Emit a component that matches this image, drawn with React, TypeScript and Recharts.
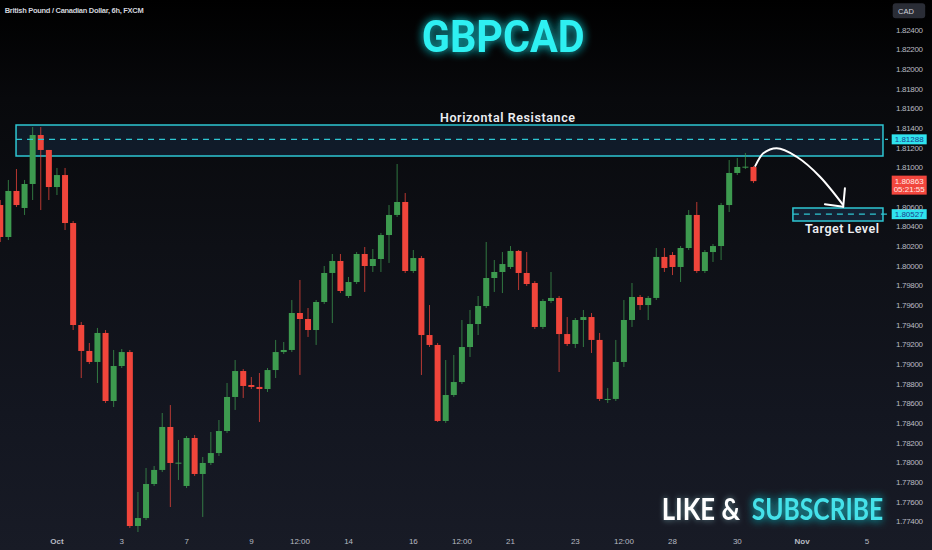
import React from 'react';
import { ComposedChart, Bar, Line, XAxis, YAxis, ReferenceArea, ReferenceLine } from 'recharts';

// 6h candles, GBPCAD, Sep 27 06:00 .. Oct 30 12:00
const opens = [
  1.8062, 1.80295, 1.80763, 1.8059, 1.80834, 1.81332, 1.8118, 1.80803, 1.80925, 1.80437,
  1.794, 1.79136, 1.79024, 1.79319, 1.78627, 1.78983, 1.79125, 1.77356, 1.77437, 1.77783,
  1.77926, 1.78363, 1.77994, 1.77763, 1.78251, 1.77885, 1.77997, 1.78098, 1.78322, 1.78668,
  1.78932, 1.7879, 1.7877, 1.78749, 1.78942, 1.79125, 1.79146, 1.79522, 1.79461, 1.79349,
  1.79634, 1.79929, 1.80051, 1.79695, 1.79837, 1.80122, 1.8, 1.80071, 1.80315, 1.80519,
  1.80651, 1.79949, 1.80081, 1.79298, 1.79197, 1.78424, 1.78688, 1.7882, 1.79176, 1.7941,
  1.79593, 1.79878, 1.79939, 1.7999, 1.80153, 1.79929, 1.79827, 1.7938, 1.79644, 1.79675,
  1.79308, 1.79207, 1.79451, 1.79481, 1.79248, 1.78637, 1.78648, 1.79024, 1.79451, 1.79685,
  1.79603, 1.79675, 1.80092, 1.80112, 1.7999, 1.80183, 1.80519, 1.79949, 1.80142, 1.80203,
  1.8062, 1.80946, 1.81004, 1.81007,
];
const highs = [
  1.80671, 1.80875, 1.80986, 1.80875, 1.81413, 1.81413, 1.8118, 1.80997, 1.80997, 1.80458,
  1.79431, 1.79217, 1.7937, 1.79349, 1.79146, 1.79156, 1.79146, 1.77702, 1.77946, 1.77966,
  1.78505, 1.78586, 1.78231, 1.78271, 1.78281, 1.78058, 1.78312, 1.78434, 1.7881, 1.79044,
  1.78952, 1.78871, 1.78912, 1.78963, 1.79248, 1.79227, 1.79654, 1.79858, 1.79573, 1.79654,
  1.8, 1.80122, 1.80122, 1.79888, 1.80142, 1.80193, 1.80173, 1.80336, 1.8062, 1.81037,
  1.80742, 1.80163, 1.80102, 1.79603, 1.79217, 1.79044, 1.79095, 1.79451, 1.79553, 1.79695,
  1.80244, 1.80061, 1.80142, 1.80203, 1.80163, 1.80142, 1.79847, 1.79664, 1.79939, 1.79695,
  1.79481, 1.79471, 1.79553, 1.79522, 1.79319, 1.78759, 1.79248, 1.79654, 1.79827, 1.79705,
  1.79695, 1.80183, 1.80183, 1.80142, 1.80203, 1.80569, 1.80651, 1.80163, 1.80224, 1.80641,
  1.81078, 1.81098, 1.81149, 1.81017,
];
const lows = [
  1.80244, 1.80264, 1.806, 1.80519, 1.80671, 1.80569, 1.80671, 1.80722, 1.80366, 1.79349,
  1.78861, 1.79003, 1.7881, 1.78607, 1.78566, 1.78963, 1.77336, 1.77295, 1.77417, 1.77763,
  1.77905, 1.77549, 1.77824, 1.77742, 1.77865, 1.77448, 1.77976, 1.78068, 1.78302, 1.78536,
  1.78658, 1.78749, 1.78414, 1.78719, 1.78861, 1.79105, 1.79125, 1.78892, 1.79278, 1.79197,
  1.79614, 1.7942, 1.79725, 1.79675, 1.79817, 1.79736, 1.79939, 1.79939, 1.80031, 1.80498,
  1.79929, 1.79929, 1.78892, 1.79176, 1.78414, 1.78404, 1.78668, 1.788, 1.79075, 1.79298,
  1.79573, 1.79736, 1.79725, 1.7997, 1.79756, 1.79797, 1.79359, 1.79359, 1.79624, 1.78922,
  1.79186, 1.79166, 1.79176, 1.79115, 1.78627, 1.78607, 1.78627, 1.78973, 1.7938, 1.79553,
  1.79451, 1.79654, 1.79939, 1.79908, 1.79837, 1.80163, 1.79929, 1.79929, 1.80041, 1.80061,
  1.80549, 1.80925, 1.80986, 1.80844,
];
const closes = [
  1.80295, 1.80763, 1.8062, 1.80834, 1.81332, 1.8118, 1.80803, 1.80925, 1.80437, 1.794,
  1.79136, 1.79024, 1.79319, 1.78627, 1.78983, 1.79125, 1.77356, 1.77437, 1.77783, 1.77926,
  1.78363, 1.77997, 1.78, 1.78251, 1.77885, 1.77997, 1.78098, 1.78322, 1.78668, 1.78932,
  1.7878, 1.7877, 1.78749, 1.78942, 1.79125, 1.79146, 1.79522, 1.79461, 1.79349, 1.79634,
  1.79929, 1.80051, 1.79746, 1.79837, 1.80122, 1.8, 1.80071, 1.80315, 1.80519, 1.80651,
  1.79949, 1.80081, 1.79298, 1.79197, 1.78424, 1.78688, 1.7882, 1.79176, 1.7941, 1.79593,
  1.79878, 1.79939, 1.8002, 1.80153, 1.79929, 1.79817, 1.7938, 1.79644, 1.79675, 1.79308,
  1.79207, 1.79451, 1.79481, 1.79248, 1.78648, 1.78648, 1.79024, 1.79451, 1.79685, 1.79603,
  1.79675, 1.80092, 1.7998, 1.7999, 1.80183, 1.80519, 1.79949, 1.80142, 1.80203, 1.8062,
  1.80946, 1.81007, 1.8101, 1.80863,
];

const timeTicks = [7, 15, 23, 31, 37, 43, 51, 57, 63, 71, 77, 83, 91, 99, 107];
const timeLabels = ['Oct', '3', '7', '9', '12:00', '14', '16', '12:00', '21', '23', '12:00', '28', '30', 'Nov', '5'];
const priceTicks = [
  1.774, 1.776, 1.778, 1.78, 1.782, 1.784, 1.786, 1.788, 1.79, 1.792, 1.794, 1.796, 1.798,
  1.8, 1.802, 1.804, 1.806, 1.81, 1.812, 1.814, 1.816, 1.818, 1.82, 1.822, 1.824,
];

const resistanceZone = [1.81119, 1.81434];
const resistanceLevel = 1.81288;
const targetZone = [1.80458, 1.8059];
const targetLevel = 1.80527;
const lastPrice = 1.80863;
const countdown = '05:21:55';

// hand-drawn arrow from last candle down to the target
const arrowIdx = [93.17, 94.2, 95.85, 98.32, 101.2, 104.07];
const arrowPrice = [1.8101, 1.81146, 1.81197, 1.81111, 1.80908, 1.8062];
const arrowHeadIdx = [101.81, 104.07, 104.28];
const arrowHeadPrice = [1.80628, 1.80603, 1.8079];

const W = 932;
const H = 550;
const X_DOMAIN = [-0.04, 109.6];
const Y_DOMAIN = [1.77295, 1.82705];
const GREEN = '#3d9a4f';
const RED = '#f0453b';
const CYAN = '#2ec6d2';
const AXIS_TEXT = '#b7bac2';

const candles = opens.map((o, i) => ({
  i,
  o,
  h: highs[i],
  l: lows[i],
  c: closes[i],
  range: [lows[i], highs[i]],
}));

const arrowData = arrowIdx.map((x, k) => ({ i: x, a: arrowPrice[k] }));

function Candle(props: any) {
  const { x, y, width, height, payload } = props;
  if (!payload || payload.h == null) return null;
  const top = Math.min(y, y + height);
  const bottom = Math.max(y, y + height);
  const span = payload.h - payload.l;
  const k = span > 0 ? (bottom - top) / span : 0;
  const py = (v: number) => top + (payload.h - v) * k;
  const cx = x + width / 2;
  const up = payload.c >= payload.o;
  const color = up ? GREEN : RED;
  const bTop = py(Math.max(payload.o, payload.c));
  const bBot = py(Math.min(payload.o, payload.c));
  return (
    <g>
      <line x1={cx} x2={cx} y1={top} y2={bottom} stroke={color} strokeWidth={1} strokeOpacity={0.75} />
      <rect x={cx - 3} y={bTop} width={6} height={Math.max(1, bBot - bTop)} fill={color} />
    </g>
  );
}

function PriceTick(props: any) {
  const { y, payload } = props;
  return (
    <text x={896} y={y + 2.8} fill={AXIS_TEXT} fontSize={8} fontFamily="Liberation Sans, Arial" textLength={27}>
      {payload.value.toFixed(5)}
    </text>
  );
}

function TimeTick(props: any) {
  const { x, payload } = props;
  const label = timeLabels[timeTicks.indexOf(payload.value)];
  const month = label === 'Oct' || label === 'Nov';
  return (
    <text x={x} y={544} fill={AXIS_TEXT} fontSize={8} fontWeight={month ? 700 : 400} textAnchor="middle" fontFamily="Liberation Sans, Arial">
      {label}
    </text>
  );
}

function levelTag(text: string) {
  return (props: any) => {
    const vb = props.viewBox;
    if (!vb) return null;
    const x = vb.x + vb.width + 3.7;
    return (
      <g>
        <rect x={x} y={vb.y - 5} width={35} height={10} fill="#2fe3ee" />
        <text x={x + 17.5} y={vb.y + 2.8} textAnchor="middle" fontSize={8} fill="#1b3f8c" fontFamily="Liberation Sans, Arial">
          {text}
        </text>
      </g>
    );
  };
}

function lastPriceTag(props: any) {
  const vb = props.viewBox;
  if (!vb) return null;
  const x = vb.x + vb.width + 3.7;
  return (
    <g>
      <rect x={x} y={vb.y - 5.5} width={35} height={19} fill="#f2463d" />
      <text x={x + 17.5} y={vb.y + 2.8} textAnchor="middle" fontSize={8} fill="#ffe9e6" fontFamily="Liberation Sans, Arial">
        {lastPrice.toFixed(5)}
      </text>
      <text x={x + 17.5} y={vb.y + 11} textAnchor="middle" fontSize={8} fill="#ffe9e6" fontFamily="Liberation Sans, Arial">
        {countdown}
      </text>
    </g>
  );
}

export default function App() {
  return (
    <div
      style={{
        position: 'absolute',
        left: 0,
        top: 0,
        width: W,
        height: H,
        overflow: 'hidden',
        background: 'linear-gradient(to bottom, #000000 0%, #08090c 18%, #0e1016 45%, #131620 75%, #181b26 100%)',
      }}
    >
      <ComposedChart width={W} height={H} data={candles} margin={{ top: 0, right: 0, bottom: 0, left: 0 }}>
        <XAxis
          dataKey="i"
          type="number"
          domain={X_DOMAIN}
          allowDataOverflow
          ticks={timeTicks}
          interval={0}
          height={18}
          axisLine={false}
          tickLine={false}
          tick={<TimeTick />}
        />
        <YAxis
          orientation="right"
          type="number"
          domain={Y_DOMAIN}
          allowDataOverflow
          ticks={priceTicks.filter((t) => Math.abs(t - 1.808) > 1e-6)}
          interval={0}
          width={44}
          axisLine={false}
          tickLine={false}
          tick={<PriceTick />}
        />
        <ReferenceArea
          x1={1.94}
          x2={108.98}
          y1={resistanceZone[0]}
          y2={resistanceZone[1]}
          fill="#1d3a5c"
          fillOpacity={0.35}
          stroke={CYAN}
          strokeWidth={1.5}
          ifOverflow="visible"
        />
        <ReferenceArea
          x1={97.86}
          x2={108.98}
          y1={targetZone[0]}
          y2={targetZone[1]}
          fill="#1d3a5c"
          fillOpacity={0.45}
          stroke={CYAN}
          strokeWidth={1.5}
          ifOverflow="visible"
        />
        <Bar dataKey="range" shape={<Candle />} isAnimationActive={false} barSize={6} />
        <ReferenceLine
          segment={[{ x: 1.94, y: resistanceLevel }, { x: 109.6, y: resistanceLevel }]}
          stroke={CYAN}
          strokeWidth={1.2}
          strokeDasharray="6 5"
          ifOverflow="visible"
          label={levelTag(resistanceLevel.toFixed(5))}
        />
        <ReferenceLine
          segment={[{ x: 97.86, y: targetLevel }, { x: 109.6, y: targetLevel }]}
          stroke={CYAN}
          strokeWidth={1.2}
          strokeDasharray="6 5"
          ifOverflow="visible"
          label={levelTag(targetLevel.toFixed(5))}
        />
        <ReferenceLine
          segment={[{ x: 93, y: lastPrice }, { x: 109.6, y: lastPrice }]}
          stroke="none"
          strokeOpacity={0}
          ifOverflow="visible"
          label={lastPriceTag}
        />
        <Line
          data={arrowData}
          dataKey="a"
          type="monotone"
          stroke="#ffffff"
          strokeWidth={2}
          dot={false}
          activeDot={false}
          isAnimationActive={false}
        />
        <ReferenceLine
          segment={[{ x: arrowHeadIdx[0], y: arrowHeadPrice[0] }, { x: arrowHeadIdx[1], y: arrowHeadPrice[1] }]}
          stroke="#ffffff"
          strokeWidth={2}
          strokeLinecap="round"
          ifOverflow="visible"
        />
        <ReferenceLine
          segment={[{ x: arrowHeadIdx[2], y: arrowHeadPrice[2] }, { x: arrowHeadIdx[1], y: arrowHeadPrice[1] }]}
          stroke="#ffffff"
          strokeWidth={2}
          strokeLinecap="round"
          ifOverflow="visible"
        />
      </ComposedChart>

      <svg width={W} height={H} style={{ position: 'absolute', left: 0, top: 0, pointerEvents: 'none' }}>
        <defs>
          <filter id="glowCyan" x="-20%" y="-60%" width="140%" height="220%">
            <feGaussianBlur in="SourceAlpha" stdDeviation="5" result="blur" />
            <feFlood floodColor="#1fd8e0" floodOpacity="0.55" />
            <feComposite in2="blur" operator="in" result="glow" />
            <feMerge>
              <feMergeNode in="glow" />
              <feMergeNode in="glow" />
              <feMergeNode in="SourceGraphic" />
            </feMerge>
          </filter>
          <filter id="glowSoft" x="-20%" y="-60%" width="140%" height="220%">
            <feGaussianBlur in="SourceAlpha" stdDeviation="3" result="blur" />
            <feFlood floodColor="#9fdfe6" floodOpacity="0.5" />
            <feComposite in2="blur" operator="in" result="glow" />
            <feMerge>
              <feMergeNode in="glow" />
              <feMergeNode in="SourceGraphic" />
            </feMerge>
          </filter>
        </defs>

        <text x={4.7} y={13.3} fontSize={7.5} fontWeight={600} fill="#d1d4dc" fontFamily="Liberation Sans, Arial" textLength={139}>
          British Pound / Canadian Dollar, 6h, FXCM
        </text>

        <rect x={892.7} y={3.3} width={32.5} height={15} rx={3} fill="#2a2d36" />
        <text x={898} y={13.6} fontSize={7.5} fill="#d1d4dc" fontFamily="Liberation Sans, Arial">CAD</text>

        <text
          x={421.7}
          y={51.7}
          fontSize={44}
          fontWeight={700}
          fill="#2ef0f2"
          fontFamily="Roboto, Liberation Sans"
          textLength={163}
          lengthAdjust="spacingAndGlyphs"
          filter="url(#glowCyan)"
        >
          GBPCAD
        </text>

        <text x={440} y={122.3} fontSize={12.5} fontWeight={600} fill="#eceef2" fontFamily="Roboto, Liberation Sans" textLength={135}>
          Horizontal Resistance
        </text>
        <text x={805} y={232.5} fontSize={12.5} fontWeight={600} fill="#eceef2" fontFamily="Roboto, Liberation Sans" textLength={74}>
          Target Level
        </text>

        <g transform="translate(740,520) scale(0.83,1)">
          <text
            x={0}
            y={0}
            fontSize={31}
            fontWeight={700}
            fill="#ffffff"
            fontFamily="Lato, Roboto, Liberation Sans"
            textAnchor="end"
            filter="url(#glowSoft)"
          >
            LIKE &amp;
          </text>
        </g>
        <g transform="translate(751.7,520) scale(0.83,1)">
          <text
            x={0}
            y={0}
            fontSize={31}
            fontWeight={700}
            fill="#44e2ea"
            fontFamily="Lato, Roboto, Liberation Sans"
            textLength={158.5}
            lengthAdjust="spacingAndGlyphs"
            filter="url(#glowCyan)"
          >
            SUBSCRIBE
          </text>
        </g>
      </svg>
    </div>
  );
}
